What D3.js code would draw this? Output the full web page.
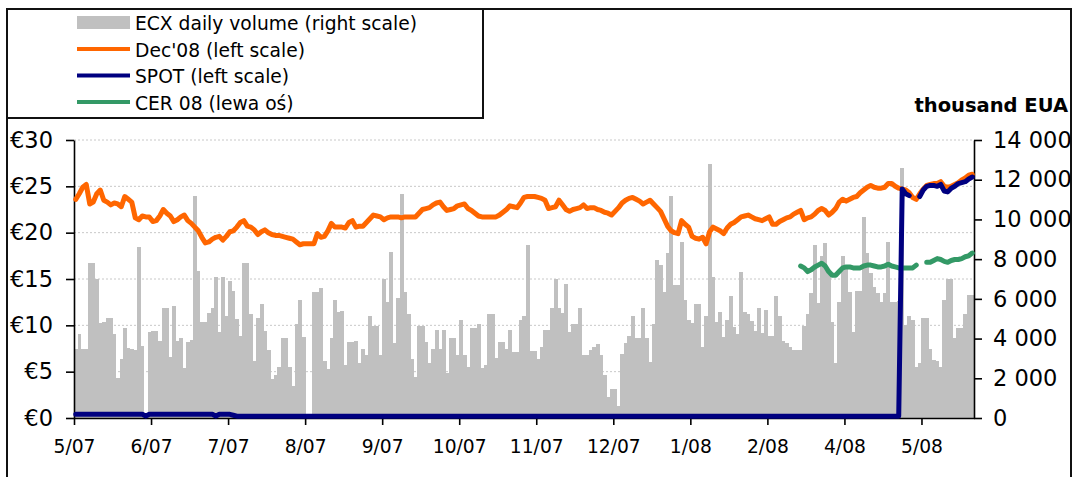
<!DOCTYPE html>
<html>
<head>
<meta charset="utf-8">
<script src="https://cdn.jsdelivr.net/npm/d3@7"></script>
<style>
  body { margin: 0; background: #fff; }
  svg text { font-family: "DejaVu Sans", sans-serif; fill: #000; }
</style>
</head>
<body>
<figure id="chart" style="margin:0"></figure>
<script>
// x axis labels, one every 22 trading days
const tickLabels = ["5/07", "6/07", "7/07", "8/07", "9/07", "10/07", "11/07", "12/07", "1/08", "2/08", "4/08", "5/08"];
const tickEvery = 22;

// ECX daily volume, thousand EUA (right scale)
const volume = [
  3450, 4250, 3450, 3450, 7800, 7800, 7000, 4800, 4850, 5050,
  5050, 4250, 2000, 2950, 4550, 3550, 3450, 3400, 8600, 3650,
  0, 4350, 4400, 4400, 3900, 5550, 5550, 3050, 5650, 3900,
  4050, 2500, 3850, 3950, 11200, 7400, 4850, 4850, 5300, 5550,
  7100, 4350, 7100, 5150, 6900, 6400, 5000, 4150, 7800, 7800,
  5250, 2850, 5050, 5750, 4400, 3400, 1950, 2150, 2550, 4050,
  4050, 2550, 1600, 4750, 5950, 4100, 0, 0, 6350, 6350,
  6550, 2850, 2450, 4050, 5950, 5350, 5400, 2650, 3850, 3850,
  3900, 2750, 3450, 3150, 5150, 4650, 4650, 3150, 7000, 5850,
  8350, 3800, 6050, 11300, 6350, 5250, 2950, 2050, 4650, 4650,
  3850, 2750, 3450, 4450, 3450, 4450, 2250, 4050, 4050, 3150,
  4950, 3150, 2550, 4550, 4550, 4750, 2500, 2650, 5250, 5250,
  3000, 3850, 3850, 3450, 4450, 3300, 3300, 4950, 5150, 8700,
  3350, 3350, 2950, 3600, 4450, 4450, 5550, 7000, 5550, 5300,
  6750, 4350, 4750, 4750, 5550, 3150, 3150, 3400, 3600, 3750,
  3150, 2150, 1050, 1450, 1450, 600, 3200, 3800, 4150, 5150,
  4050, 4050, 5550, 4050, 2800, 4750, 7950, 7700, 6350, 8300,
  11200, 6700, 6700, 8850, 5950, 4950, 4800, 5750, 5750, 3600,
  5150, 12800, 7100, 4850, 5350, 4100, 4950, 6150, 4600, 4250,
  7350, 5350, 5250, 4900, 4400, 5550, 4300, 5450, 4150, 4150,
  6150, 5150, 3900, 3800, 3600, 3400, 3400, 3400, 4650, 5250,
  6300, 8700, 5800, 8150, 8800, 7300, 4850, 2750, 5850, 8150,
  7600, 6350, 4350, 6400, 6400, 10100, 8300, 7300, 6600, 6300,
  5850, 6300, 8850, 5850, 5850, 5900, 12600, 4700, 5150, 4950,
  2550, 2750, 5050, 5050, 3500, 2900, 2850, 2550, 5950, 7000,
  7000, 4050, 4550, 4550, 5250, 6200, 6200
];

// Dec'08 futures, EUR (left scale)
const dec08 = [
  23.6, 24.2, 24.9, 25.2, 23.1, 23.3, 24.2, 24.6, 23.5, 23.3,
  23.0, 23.2, 23.1, 22.8, 23.9, 23.6, 23.3, 21.6, 21.4, 21.8,
  21.7, 21.7, 21.2, 21.3, 21.8, 22.5, 22.1, 21.8, 21.2, 21.4,
  21.7, 21.9, 21.3, 21.0, 20.6, 20.2, 19.5, 18.9, 19.0, 19.3,
  19.5, 19.6, 19.2, 19.6, 20.1, 20.2, 20.6, 21.1, 21.3, 20.7,
  20.6, 20.3, 19.8, 20.1, 20.3, 20.0, 19.8, 19.7, 19.7, 19.6,
  19.5, 19.4, 19.3, 19.0, 18.7, 18.8, 18.8, 18.8, 18.8, 19.9,
  19.5, 19.6, 20.2, 21.0, 20.6, 20.6, 20.6, 20.5, 21.1, 21.3,
  20.6, 20.7, 20.7, 21.1, 21.5, 21.9, 21.8, 21.7, 21.4, 21.6,
  21.7, 21.7, 21.7, 21.6, 21.7, 21.7, 21.7, 21.7, 22.1, 22.5,
  22.6, 22.7, 23.0, 23.2, 23.3, 22.8, 22.4, 22.5, 22.6, 22.9,
  23.0, 23.1, 22.6, 22.4, 22.1, 21.8, 21.7, 21.7, 21.7, 21.7,
  21.7, 21.9, 22.2, 22.5, 22.9, 22.8, 22.7, 23.2, 23.8, 23.9,
  23.9, 23.9, 23.8, 23.7, 23.5, 22.6, 22.7, 22.8, 23.5, 23.0,
  22.5, 22.3, 22.5, 22.6, 22.7, 23.0, 22.6, 22.7, 22.7, 22.5,
  22.4, 22.2, 22.1, 21.9, 22.3, 22.7, 23.2, 23.5, 23.7, 23.8,
  23.6, 23.4, 23.1, 23.3, 23.5, 23.1, 22.7, 22.3, 21.5, 20.7,
  20.2, 20.0, 19.9, 21.3, 20.9, 20.6, 19.6, 19.4, 19.3, 19.5,
  18.8, 20.1, 20.6, 20.4, 20.2, 19.9, 20.5, 20.9, 21.1, 21.4,
  21.7, 21.8, 21.9, 21.7, 21.5, 21.4, 21.3, 21.5, 21.7, 20.9,
  20.9, 21.2, 21.4, 21.6, 21.7, 22.0, 22.2, 22.4, 21.4, 21.6,
  21.7, 22.0, 22.4, 22.6, 22.4, 21.9, 22.2, 22.6, 23.3, 23.6,
  23.4, 23.6, 23.8, 23.9, 24.3, 24.6, 24.9, 25.1, 24.9, 24.8,
  24.8, 24.9, 25.3, 25.3, 25.0, 24.8, 24.7, 24.6, 24.3, 23.8,
  23.6, 24.2, 24.7, 25.1, 25.2, 25.3, 25.3, 25.5, 25.0, 24.9,
  25.0, 25.2, 25.4, 25.7, 25.9, 26.2, 26.3
];

// SPOT, EUR (left scale); null = no quote
const spot = [
  0.4, 0.4, 0.4, 0.4, 0.4, 0.4, 0.4, 0.4, 0.4, 0.4,
  0.4, 0.4, 0.4, 0.4, 0.4, 0.4, 0.4, 0.4, 0.4, 0.4,
  0.2, 0.4, 0.4, 0.4, 0.4, 0.4, 0.4, 0.4, 0.4, 0.4,
  0.4, 0.4, 0.4, 0.4, 0.4, 0.4, 0.4, 0.4, 0.4, 0.4,
  0.2, 0.4, 0.4, 0.4, 0.4, 0.3, 0.2, 0.2, 0.2, 0.2,
  0.2, 0.2, 0.2, 0.2, 0.2, 0.2, 0.2, 0.2, 0.2, 0.2,
  0.2, 0.2, 0.2, 0.2, 0.2, 0.2, 0.2, 0.2, 0.2, 0.2,
  0.2, 0.2, 0.2, 0.2, 0.2, 0.2, 0.2, 0.2, 0.2, 0.2,
  0.2, 0.2, 0.2, 0.2, 0.2, 0.2, 0.2, 0.2, 0.2, 0.2,
  0.2, 0.2, 0.2, 0.2, 0.2, 0.2, 0.2, 0.2, 0.2, 0.2,
  0.2, 0.2, 0.2, 0.2, 0.2, 0.2, 0.2, 0.2, 0.2, 0.2,
  0.2, 0.2, 0.2, 0.2, 0.2, 0.2, 0.2, 0.2, 0.2, 0.2,
  0.2, 0.2, 0.2, 0.2, 0.2, 0.2, 0.2, 0.2, 0.2, 0.2,
  0.2, 0.2, 0.2, 0.2, 0.2, 0.2, 0.2, 0.2, 0.2, 0.2,
  0.2, 0.2, 0.2, 0.2, 0.2, 0.2, 0.2, 0.2, 0.2, 0.2,
  0.2, 0.2, 0.2, 0.2, 0.2, 0.2, 0.2, 0.2, 0.2, 0.2,
  0.2, 0.2, 0.2, 0.2, 0.2, 0.2, 0.2, 0.2, 0.2, 0.2,
  0.2, 0.2, 0.2, 0.2, 0.2, 0.2, 0.2, 0.2, 0.2, 0.2,
  0.2, 0.2, 0.2, 0.2, 0.2, 0.2, 0.2, 0.2, 0.2, 0.2,
  0.2, 0.2, 0.2, 0.2, 0.2, 0.2, 0.2, 0.2, 0.2, 0.2,
  0.2, 0.2, 0.2, 0.2, 0.2, 0.2, 0.2, 0.2, 0.2, 0.2,
  0.2, 0.2, 0.2, 0.2, 0.2, 0.2, 0.2, 0.2, 0.2, 0.2,
  0.2, 0.2, 0.2, 0.2, 0.2, 0.2, 0.2, 0.2, 0.2, 0.2,
  0.2, 0.2, 0.2, 0.2, 0.2, 0.2, 24.7, 24.2, 24.0, null,
  null, 23.9, 24.6, 25.0, 25.1, 25.1, 25.0, 25.2, 24.5, 24.4,
  24.8, 25.0, 25.3, 25.4, 25.5, 25.8, 26.0
];

// CER 08, EUR (left scale); starts mid-March 2008
const cer08 = [
  16.4, 16.2, 15.8, 16.0, 16.3, 16.5, 16.7, 16.4, 15.8, 15.4,
  15.4, 15.8, 16.2, 16.3, 16.3, 16.2, 16.2, 16.2, 16.4, 16.5,
  16.5, 16.4, 16.3, 16.3, 16.4, 16.6, 16.4, 16.3, 16.2, 16.2,
  16.2, 16.2, 16.2, 16.5, null, null, 16.8, 16.8, 17.0, 17.2,
  17.1, 16.9, 16.8, 17.0, 17.1, 17.1, 17.2, 17.4, 17.5, 17.8
];
const cerStart = 207;

const W = 1073, H = 477;
const plotLeft = 74, plotRight = 974, plotTop = 140, plotBottom = 418;

const svg = d3.select("#chart").append("svg")
  .attr("width", W)
  .attr("height", H);

// scales
const x = d3.scaleLinear().domain([0, volume.length]).range([plotLeft, plotRight]);
const yL = d3.scaleLinear().domain([0, 30]).range([plotBottom, plotTop]);
const yR = d3.scaleLinear().domain([0, 14000]).range([plotBottom, plotTop]);

const loc = d3.formatLocale({ decimal: ".", thousands: " ", grouping: [3], currency: ["", ""] });
const fmtR = loc.format(",");

// outer frame and legend box
svg.append("rect")
  .attr("x", 7).attr("y", 9).attr("width", 1064).attr("height", 490)
  .attr("fill", "none").attr("stroke", "#111").attr("stroke-width", 2);
svg.append("rect")
  .attr("x", 7).attr("y", 9).attr("width", 476).attr("height", 109)
  .attr("fill", "#fff").attr("stroke", "#111").attr("stroke-width", 2);

// gridlines
svg.append("g").selectAll("line")
  .data(d3.range(5, 31, 5))
  .enter().append("line")
  .attr("x1", plotLeft).attr("x2", plotRight)
  .attr("y1", d => yL(d)).attr("y2", d => yL(d))
  .attr("stroke", "#c8c8c8")
  .attr("stroke-dasharray", "2,2");

// volume bars
svg.append("g").selectAll("rect")
  .data(volume)
  .enter().append("rect")
  .attr("x", (d, i) => x(i))
  .attr("y", d => yR(d))
  .attr("width", x(1) - x(0) + 0.4)
  .attr("height", d => plotBottom - yR(d))
  .attr("fill", "#c0c0c0")
  .attr("shape-rendering", "crispEdges");

// axes
const xAxis = svg.append("g")
  .attr("transform", "translate(0," + plotBottom + ")")
  .call(d3.axisBottom(x)
    .tickValues(tickLabels.map((d, k) => k * tickEvery))
    .tickFormat((d, k) => tickLabels[k])
    .tickSize(7)
    .tickSizeOuter(0));
xAxis.selectAll("text")
  .attr("y", 35).attr("dy", 0)
  .style("font-size", "18.7px");

const yAxisL = svg.append("g")
  .attr("transform", "translate(" + plotLeft + ",0)")
  .call(d3.axisLeft(yL)
    .tickValues(d3.range(0, 31, 5))
    .tickFormat(d => "€" + d)
    .tickSize(8)
    .tickPadding(13)
    .tickSizeOuter(0));
yAxisL.selectAll("text").style("font-size", "22.5px");

const yAxisR = svg.append("g")
  .attr("transform", "translate(" + plotRight + ",0)")
  .call(d3.axisRight(yR)
    .tickValues(d3.range(0, 14001, 2000))
    .tickFormat(fmtR)
    .tickSize(8)
    .tickPadding(11)
    .tickSizeOuter(0));
yAxisR.selectAll("text").style("font-size", "22.5px");

svg.selectAll(".domain, .tick line")
  .attr("stroke", "#000")
  .attr("stroke-width", 1.6);

// price lines
const priceLine = d3.line()
  .defined(d => d.v !== null)
  .x(d => x(d.i + 0.5))
  .y(d => yL(d.v));

const series = [
  { values: dec08, start: 0, color: "#ff6600" },
  { values: cer08, start: cerStart, color: "#339966" },
  { values: spot, start: 0, color: "#000080" }
];
series.forEach(s => {
  svg.append("path")
    .datum(s.values.map((v, k) => ({ i: s.start + k, v: v })))
    .attr("d", priceLine)
    .attr("fill", "none")
    .attr("stroke", s.color)
    .attr("stroke-width", 5)
    .attr("stroke-linejoin", "round")
    .attr("stroke-linecap", "round");
});

// unit title
svg.append("text")
  .attr("x", 1068).attr("y", 112)
  .attr("text-anchor", "end")
  .style("font-size", "19.5px")
  .style("font-weight", "bold")
  .text("thousand EUA");

// legend
const legend = [
  { name: "ECX daily volume (right scale)", color: "#c0c0c0", bar: true },
  { name: "Dec'08 (left scale)", color: "#ff6600" },
  { name: "SPOT (left scale)", color: "#000080" },
  { name: "CER 08 (lewa oś)", color: "#339966" }
];
const lg = svg.append("g").selectAll("g")
  .data(legend)
  .enter().append("g")
  .attr("transform", (d, i) => "translate(0," + (22.5 + i * 26.5) + ")");
lg.filter(d => d.bar).append("rect")
  .attr("x", 77).attr("y", -6.5).attr("width", 53).attr("height", 13)
  .attr("fill", d => d.color);
lg.filter(d => !d.bar).append("line")
  .attr("x1", 77).attr("x2", 130)
  .attr("stroke", d => d.color)
  .attr("stroke-width", 4);
lg.append("text")
  .attr("x", 135).attr("y", 7.5)
  .style("font-size", "18.7px")
  .text(d => d.name);
</script>
</body>
</html>
